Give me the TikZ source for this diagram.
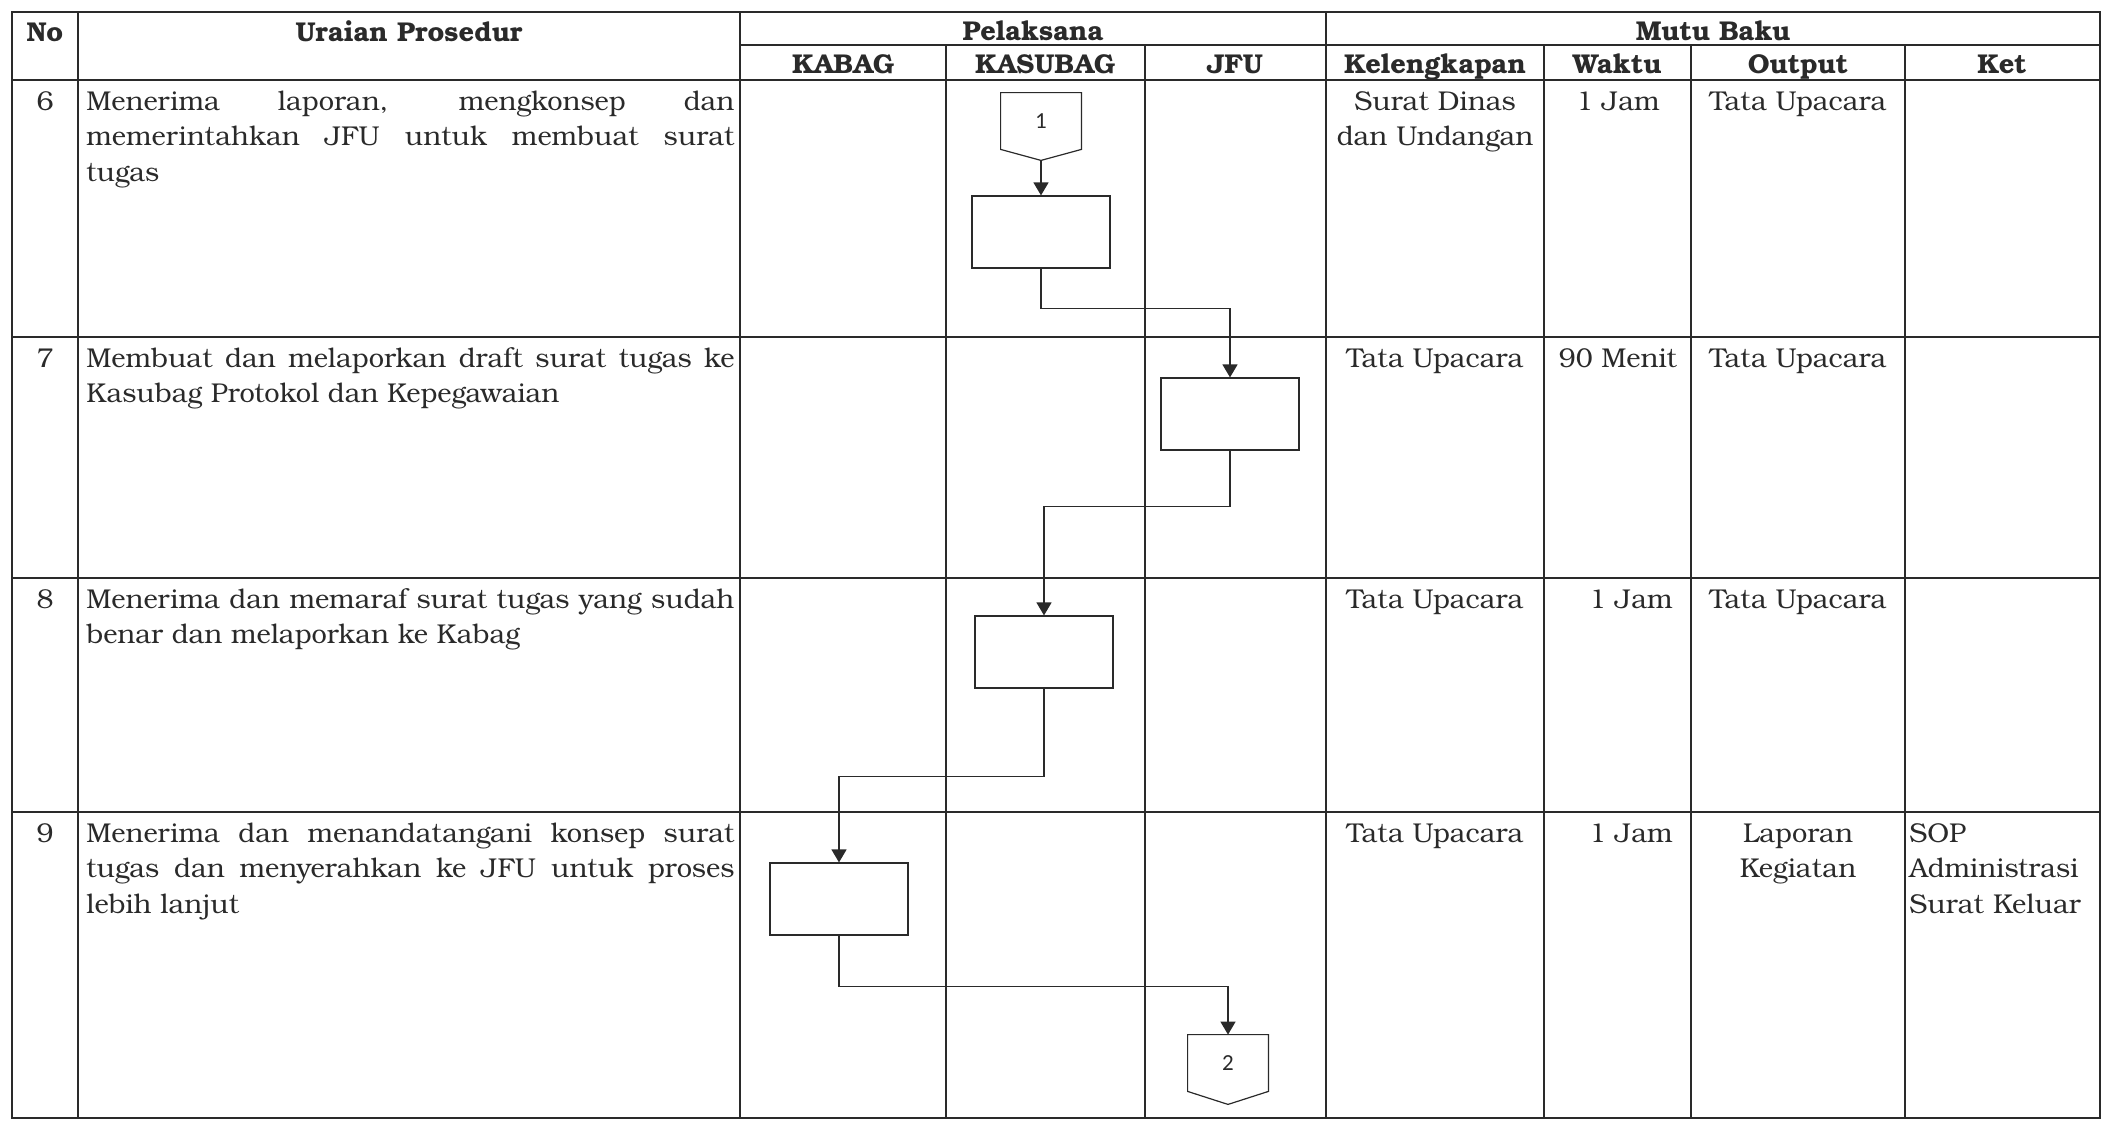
\documentclass[tikz,border=0pt]{standalone}
\usepackage{fontspec}
\setmainfont{TeX Gyre Bonum}
\newfontfamily\connfont{Carlito}
\usetikzlibrary{arrows.meta,calc}
\definecolor{ink}{HTML}{2A2A2A}

\begin{document}
\begin{tikzpicture}[x=0.5pt,y=-0.5pt]
\tikzstyle{grid} = [draw=ink, line width=1.3pt]
\tikzstyle{hd} = [font=\bfseries\fontsize{13.6}{15}\selectfont, text=ink, inner sep=0pt, anchor=base]
\tikzstyle{txt} = [font=\fontsize{13.6}{17.85}\selectfont, text=ink, inner sep=0pt]
\tikzstyle{proc} = [draw=ink, line width=0.6pt, minimum width=69pt, minimum height=36pt, inner sep=0pt]
\tikzstyle{offpage} = [minimum width=40pt, minimum height=28pt, inner sep=0pt, text=ink, font=\connfont\fontsize{11.5}{13}\selectfont]
\tikzstyle{outline} = [draw=ink, line width=0.6pt]
\tikzstyle{flow} = [draw=ink, line width=0.7pt, -{Triangle[width=7.5pt,length=6.5pt]}]
\useasboundingbox (0,0) rectangle (2103,1121);

% table frame
\draw[grid] (12,12) rectangle (2100,1118);
\draw[grid] (740,45) -- (2100,45);
\draw[grid] (12,80) -- (2100,80);
\draw[grid] (12,337) -- (2100,337);
\draw[grid] (12,578) -- (2100,578);
\draw[grid] (12,812) -- (2100,812);
\draw[grid] (78,12) -- (78,1118);
\draw[grid] (740,12) -- (740,1118);
\draw[grid] (1326,12) -- (1326,1118);
\draw[grid] (946,45) -- (946,1118);
\draw[grid] (1145,45) -- (1145,1118);
\draw[grid] (1544,45) -- (1544,1118);
\draw[grid] (1691,45) -- (1691,1118);
\draw[grid] (1905,45) -- (1905,1118);

% header
\node[hd] (hno) at (45,41) {No};
\node[hd] (hura) at (409,41) {Uraian Prosedur};
\node[hd] (hpel) at (1033,40) {Pelaksana};
\node[hd] (hmutu) at (1713,40) {Mutu Baku};
\node[hd] (hkabag) at (843,73) {KABAG};
\node[hd] (hkasub) at (1045,73) {KASUBAG};
\node[hd] (hjfu) at (1235,73) {JFU};
\node[hd] (hkel) at (1435,73) {Kelengkapan};
\node[hd] (hwak) at (1617,73) {Waktu};
\node[hd] (hout) at (1798,73) {Output};
\node[hd] (hket) at (2002,73) {Ket};

% nomor
\node[txt, anchor=base] (n6) at (45,110) {6};
\node[txt, anchor=base] (n7) at (45,367) {7};
\node[txt, anchor=base] (n8) at (45,608) {8};
\node[txt, anchor=base] (n9) at (45,842) {9};

% uraian prosedur
\node[txt, anchor=base west, text width=324pt, align=justify] (u6) at (86,110)
  {Menerima laporan, mengkonsep dan\linebreak memerintahkan JFU untuk membuat surat\linebreak tugas};
\node[txt, anchor=base west, text width=324pt, align=justify] (u7) at (86,367)
  {Membuat dan melaporkan draft surat tugas ke\linebreak Kasubag Protokol dan Kepegawaian};
\node[txt, anchor=base west, text width=324pt, align=justify] (u8) at (86,608)
  {Menerima dan memaraf surat tugas yang sudah\linebreak benar dan melaporkan ke Kabag};
\node[txt, anchor=base west, text width=324pt, align=justify] (u9) at (86,842)
  {Menerima dan menandatangani konsep surat\linebreak tugas dan menyerahkan ke JFU untuk proses\linebreak lebih lanjut};

% mutu baku
\node[txt, anchor=base, text width=106pt, align=center] (k6) at (1435,110) {Surat Dinas\\dan Undangan};
\node[txt, anchor=base] (k7) at (1435,367) {Tata Upacara};
\node[txt, anchor=base] (k8) at (1435,608) {Tata Upacara};
\node[txt, anchor=base] (k9) at (1435,842) {Tata Upacara};
\node[txt, anchor=base] (w6) at (1618,110) {1 Jam};
\node[txt, anchor=base] (w7) at (1618,367) {90 Menit};
\node[txt, anchor=base east] (w8) at (1673,608) {1 Jam};
\node[txt, anchor=base east] (w9) at (1673,842) {1 Jam};
\node[txt, anchor=base] (o6) at (1798,110) {Tata Upacara};
\node[txt, anchor=base] (o7) at (1798,367) {Tata Upacara};
\node[txt, anchor=base] (o8) at (1798,608) {Tata Upacara};
\node[txt, anchor=base, text width=100pt, align=center] (o9) at (1798,842) {Laporan\\Kegiatan};
\node[txt, anchor=base west, text width=95pt, align=left] (ket9) at (1909,842) {SOP\\Administrasi\\Surat Keluar};

% bagan alir
\node[offpage] (c1) at (1041,121) {1};
\coordinate (c1tip) at ([yshift=-5.5pt]c1.south);
\draw[outline] (c1.south west) -- (c1.north west) -- (c1.north east) -- (c1.south east) -- (c1tip) -- cycle;
\node[proc] (b6) at (1041,232) {};
\node[proc] (b7) at (1230,414) {};
\node[proc] (b8) at (1044,652) {};
\node[proc] (b9) at (839,899) {};
\node[offpage] (c2) at (1228,1063) {2};
\coordinate (c2tip) at ([yshift=-6.5pt]c2.south);
\draw[outline] (c2.south west) -- (c2.north west) -- (c2.north east) -- (c2.south east) -- (c2tip) -- cycle;

\draw[flow] (c1tip) -- (b6);
\draw[flow] (b6.south) -- ++(0,40) -| (b7.north);
\draw[flow] (b7.south) -- ++(0,56) -| (b8.north);
\draw[flow] (b8.south) -- ++(0,88) -| (b9.north);
\draw[flow] (b9.south) -- ++(0,51) -| (c2.north);
\end{tikzpicture}
\end{document}
